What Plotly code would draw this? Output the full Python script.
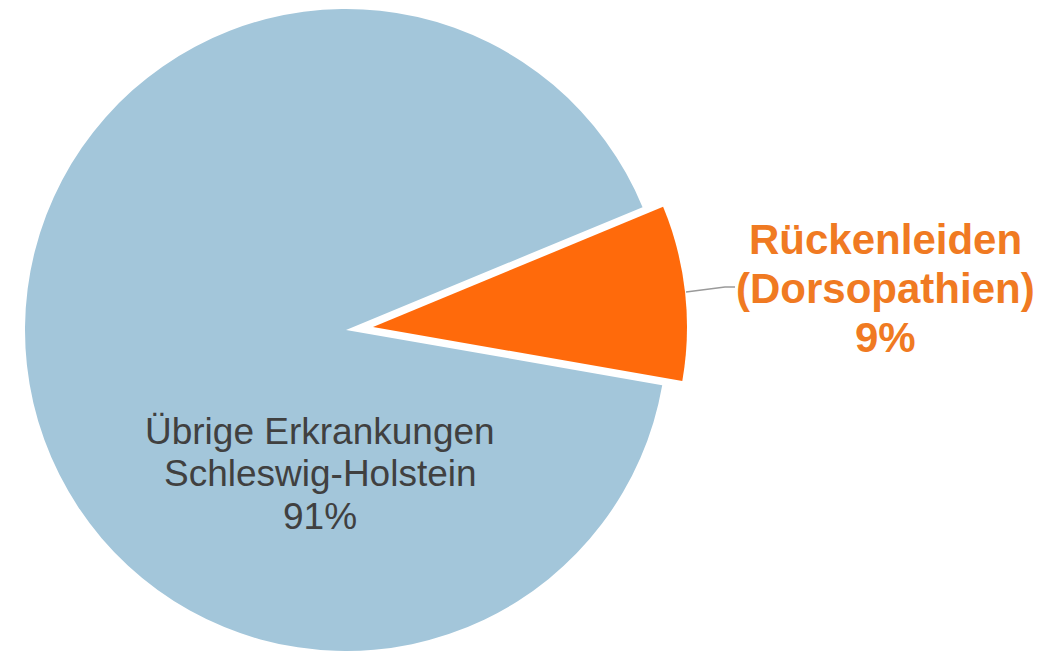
import plotly.graph_objects as go

# ---- data ----
labels = ["Rückenleiden (Dorsopathien)", "Übrige Erkrankungen Schleswig-Holstein"]
values = [9, 91]
label_lines = [["Rückenleiden", "(Dorsopathien)"], ["Übrige Erkrankungen", "Schleswig-Holstein"]]

# ---- style ----
W, H = 1041, 651
blue = "#A3C6DA"
orange = "#FF6A0B"
orange_text = "#F07A22"
grey_text = "#404040"
transparent = "rgba(0,0,0,0)"
rotation = 67.5

def px_dom(cx, cy, r):
    x0, x1 = (cx - r) / W, (cx + r) / W
    y0, y1 = 1 - (cy + r) / H, 1 - (cy - r) / H
    return dict(x=[max(0, x0), min(1, x1)], y=[max(0, y0), min(1, y1)])

total = sum(values)
pcts = [f"{round(100 * v / total)}%" for v in values]

fig = go.Figure()
# main (non-pulled) slice
fig.add_trace(go.Pie(
    labels=labels, values=values, sort=False, direction="clockwise",
    rotation=rotation, textinfo="none", hoverinfo="label+percent",
    marker=dict(colors=[transparent, blue], line=dict(color="white", width=0)),
    domain=px_dom(346, 330, 321), showlegend=False,
))
# exploded slice
fig.add_trace(go.Pie(
    labels=labels, values=values, sort=False, direction="clockwise",
    rotation=rotation, textinfo="none", hoverinfo="label+percent",
    marker=dict(colors=[orange, transparent], line=dict(color="white", width=0)),
    domain=px_dom(373, 327, 314), showlegend=False,
))

font_family = "Liberation Sans, Arial"
# label lines: orange (bold) and blue slice
orange_lines = label_lines[0] + [pcts[0]]
orange_y = [240, 288, 337]
for txt, yy in zip(orange_lines, orange_y):
    fig.add_annotation(
        x=885 / W, y=1 - yy / H, xref="paper", yref="paper", showarrow=False,
        text=f"<b>{txt}</b>",
        font=dict(family=font_family, size=42, color=orange_text),
        xanchor="center", yanchor="middle",
    )
blue_lines = label_lines[1] + [pcts[1]]
blue_y = [431, 473, 516]
for txt, yy in zip(blue_lines, blue_y):
    fig.add_annotation(
        x=320 / W, y=1 - yy / H, xref="paper", yref="paper", showarrow=False,
        text=txt,
        font=dict(family=font_family, size=37, color=grey_text),
        xanchor="center", yanchor="middle",
    )
# leader line
fig.add_shape(
    type="path", xref="paper", yref="paper",
    path=f"M {686/W},{1-292/H} L {725/W},{1-287/H} L {735/W},{1-287/H}",
    line=dict(color="#9A9A9A", width=1.5),
)

fig.update_layout(
    width=W, height=H, margin=dict(l=0, r=0, t=0, b=0),
    paper_bgcolor="white", plot_bgcolor="white",
)
fig.write_html("out.html", config={"displayModeBar": False},
               post_script="document.body.style.margin='0px';")
